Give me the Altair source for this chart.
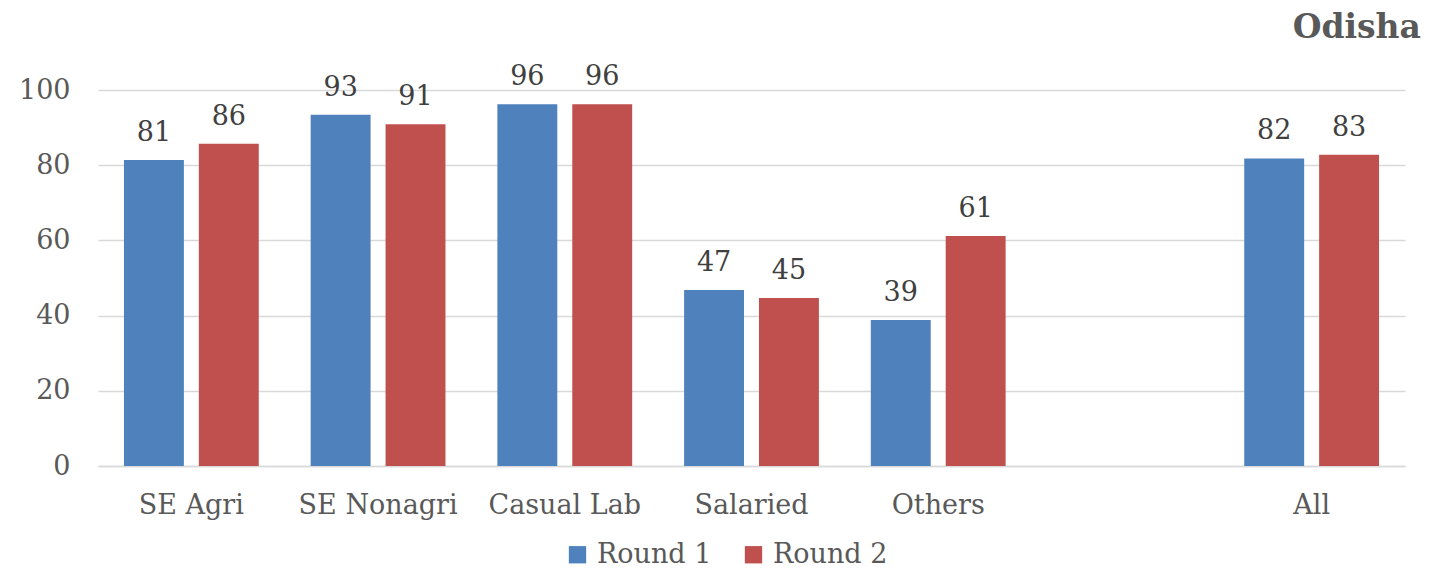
import altair as alt
import pandas as pd

categories = ["SE Agri", "SE Nonagri", "Casual Lab", "Salaried", "Others", "All"]
round1 = [81.4, 93.4, 96.2, 46.8, 38.8, 81.8]
round2 = [85.7, 90.9, 96.2, 44.7, 61.2, 82.8]
series = ["Round 1", "Round 2"]
colors = ["#4f81bd", "#c0504d"]
axis_domain = ["SE Agri", "SE Nonagri", "Casual Lab", "Salaried", "Others", " ", "All"]
y_ticks = [0, 20, 40, 60, 80, 100]
title_text = "Odisha"

rows = []
for c, a, b in zip(categories, round1, round2):
    rows.append({"category": c, "series": series[0], "value": a})
    rows.append({"category": c, "series": series[1], "value": b})
df = pd.DataFrame(rows)

FONT = "DejaVu Serif"
GREY = "#595959"

x = alt.X(
    "category:N",
    sort=axis_domain,
    scale=alt.Scale(domain=axis_domain, paddingInner=0.278, paddingOuter=0.139),
    axis=alt.Axis(
        title=None, labelAngle=0, ticks=False, domainColor="#d9d9d9", domainWidth=1.5,
        labelFont=FONT, labelFontSize=27, labelColor=GREY, labelPadding=26,
    ),
)
xo = alt.XOffset("series:N", scale=alt.Scale(domain=series, paddingInner=0.2, paddingOuter=0))
y = alt.Y(
    "value:Q",
    scale=alt.Scale(domain=[0, 100]),
    axis=alt.Axis(
        title=None, values=y_ticks, ticks=False, domain=False, grid=True,
        gridColor="#d9d9d9", gridWidth=1.5, labelFont=FONT, labelFontSize=27,
        labelColor=GREY, labelPadding=28,
    ),
)

bars = alt.Chart(df).mark_bar().encode(
    x=x, xOffset=xo, y=y,
    color=alt.Color(
        "series:N",
        scale=alt.Scale(domain=series, range=colors),
        legend=alt.Legend(
            title=None, orient="none", direction="horizontal", legendX=466, legendY=451,
            symbolType="square", symbolSize=300, symbolStrokeWidth=0,
            labelFont=FONT, labelFontSize=27, labelColor=GREY, columnPadding=28, labelOffset=6,
        ),
    ),
)

labels = alt.Chart(df).mark_text(
    font=FONT, fontSize=27, color="#404040", baseline="alphabetic", dy=-19
).encode(x=x, xOffset=xo, y=y, text=alt.Text("value:Q", format=".0f"))

title = alt.Chart(pd.DataFrame({"t": [title_text]})).mark_text(
    font=FONT, fontSize=33, fontWeight="bold", color=GREY, align="right", baseline="alphabetic"
).encode(x=alt.value(1323), y=alt.value(-52), text="t:N")

chart = alt.layer(bars, labels, title).properties(
    width=1307, height=376,
    autosize=alt.AutoSizeParams(type="none"),
    padding={"left": 90, "top": 82, "right": 30, "bottom": 103},
).configure_view(stroke=None)

chart.save("out.html", embed_options={"renderer": "svg", "actions": False})
